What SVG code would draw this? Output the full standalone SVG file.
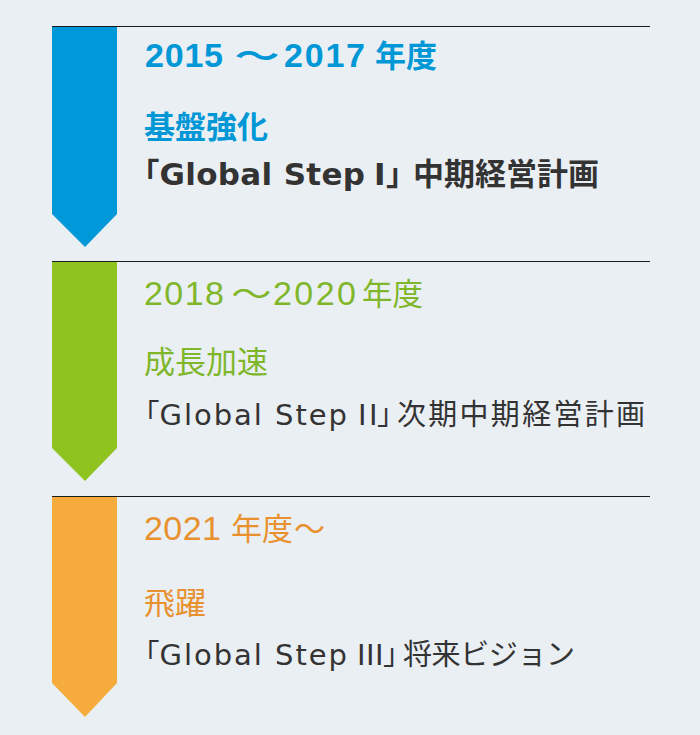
<svg xmlns="http://www.w3.org/2000/svg" width="700" height="735" viewBox="0 0 700 735">
<style>
.sep{stroke:#1a1a1a;stroke-width:1}
.t{font-family:"Liberation Sans","Noto Sans CJK JP",sans-serif}
.d{font-family:"DejaVu Sans","Noto Sans CJK JP",sans-serif}
.j{font-family:"Noto Sans CJK JP",sans-serif}
.h{font-family:"Noto Sans CJK JP",sans-serif;font-feature-settings:"halt"}
.b{font-weight:700}
.r{font-weight:400}
.blue{fill:#0097d7}
.green{fill:#80b72a}
.orange{fill:#e8912e}
.dark{fill:#333333}
.yr{font-size:34px}
.yj{font-size:31px}
.sub{font-size:31px}
.ln{font-size:31px}
.ln2{font-size:29px}
</style>
<rect x="0" y="0" width="700" height="735" fill="#eaeff4"/>

<g id="row1">
  <line class="sep" x1="52" y1="26.5" x2="650" y2="26.5"/>
  <polygon fill="#0098d9" points="52,27 117,27 117,214 85,247 52,214"/>
  <text class="t b blue yr" y="67">
    <tspan x="145" textLength="78">2015</tspan><tspan x="284" textLength="81">2017</tspan><tspan class="j yj" x="375">年度</tspan>
  </text>
  <text class="j b blue yj" text-anchor="middle" transform="translate(257,67) scale(1.45,1)">～</text>
  <text class="j b blue sub" x="144" y="138">基盤強化</text>
  <text class="d b dark ln" y="185">
    <tspan class="h" x="144">「</tspan><tspan x="159.5" textLength="205.5">Global Step</tspan><tspan x="374">I</tspan><tspan class="h" x="386">」</tspan><tspan class="j" x="413">中期経営計画</tspan>
  </text>
</g>

<g id="row2">
  <line class="sep" x1="52" y1="261.5" x2="650" y2="261.5"/>
  <polygon fill="#8fc31f" points="52,262 117,262 117,448 85,481 52,448"/>
  <text class="t r green yr" y="305">
    <tspan x="144" textLength="80">2018</tspan><tspan x="273" textLength="83">2020</tspan><tspan class="j" x="362" style="font-size:30.5px">年度</tspan>
  </text>
  <text class="j r green yj" text-anchor="middle" transform="translate(251.5,305) scale(1.3,1)">～</text>
  <text class="j r green sub" x="144" y="373">成長加速</text>
  <text class="d r dark ln2" y="425">
    <tspan class="h" x="145">「</tspan><tspan x="159.5" textLength="187.5">Global Step</tspan><tspan x="358" textLength="19.5">II</tspan><tspan class="h" x="377">」</tspan><tspan class="j" x="397" textLength="248">次期中期経営計画</tspan>
  </text>
</g>

<g id="row3">
  <line class="sep" x1="52" y1="496.5" x2="650" y2="496.5"/>
  <polygon fill="#f5ac3d" points="52,497 117,497 117,683 85,717 52,683"/>
  <text class="t r orange yr" y="540">
    <tspan x="144" textLength="77">2021</tspan><tspan class="j yj" x="231">年度</tspan><tspan class="j yj" x="294">～</tspan>
  </text>
  <text class="j r orange sub" x="144" y="614">飛躍</text>
  <text class="d r dark ln2" y="665">
    <tspan class="h" x="145">「</tspan><tspan x="159.5" textLength="187.5">Global Step</tspan><tspan x="357" textLength="26.5">III</tspan><tspan class="h" x="383">」</tspan><tspan class="j" x="403" textLength="172">将来ビジョン</tspan>
  </text>
</g>
</svg>
